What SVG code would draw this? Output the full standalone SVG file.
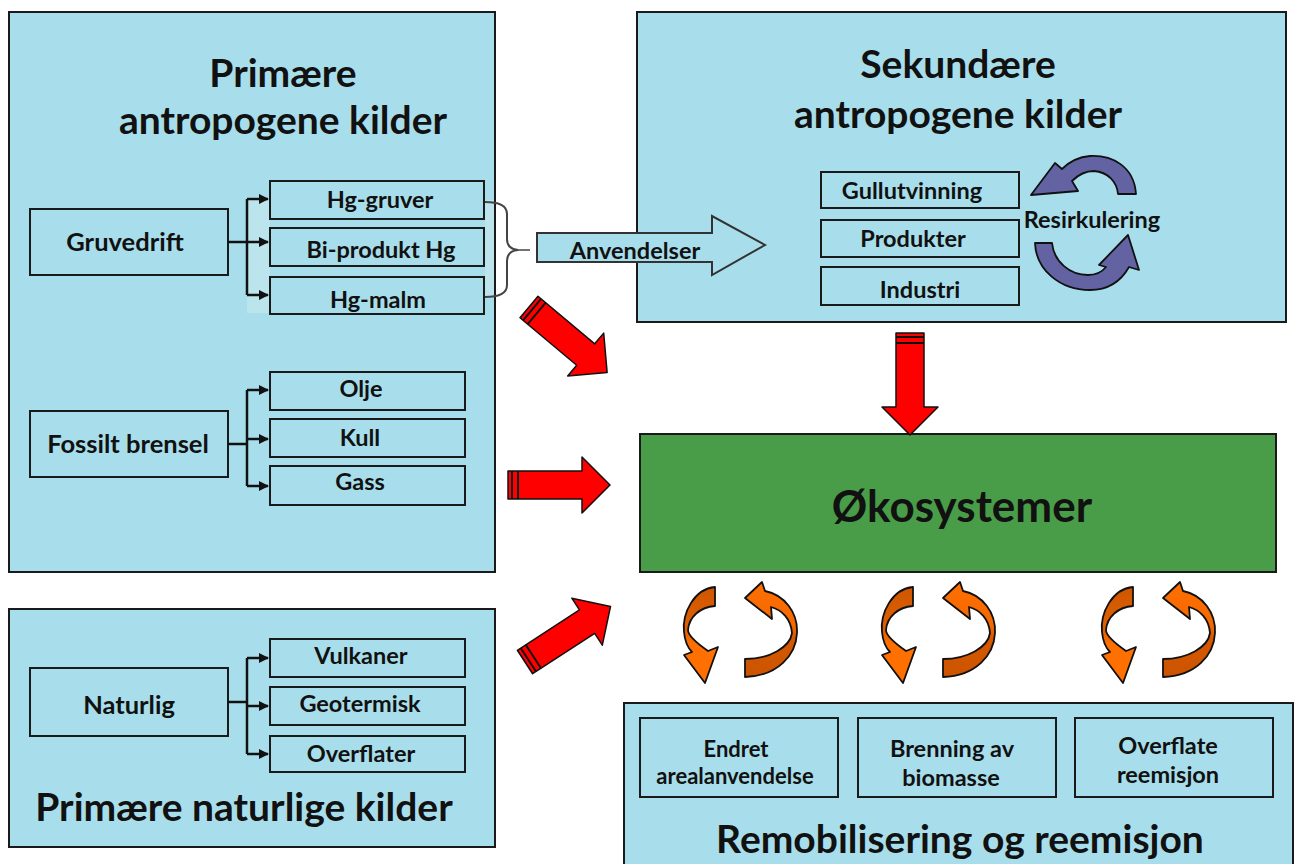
<svg xmlns="http://www.w3.org/2000/svg" width="1295" height="864" viewBox="0 0 1295 864">
  <defs>
    <style>
      text { font-family: Lato, "Open Sans", "Liberation Sans", sans-serif; font-weight: bold; fill: #111; text-anchor: middle; }
      .panel { fill: #a8deeb; stroke: #1a1a1a; stroke-width: 2; }
      .box { fill: #a8deeb; stroke: #1a1a1a; stroke-width: 2; }
      .title { font-size: 39px; }
      .item { font-size: 23.5px; }
      .sub { font-size: 22px; }
      .lbl { font-size: 25.5px; }
      .wire { fill: none; stroke: #111; stroke-width: 2.5; }
      .red { fill: #ff0000; stroke: #111; stroke-width: 1.5; stroke-linejoin: round; }
      .purple { fill: #6363a3; stroke: #111; stroke-width: 1.8; stroke-linejoin: round; }
      .orange { stroke: #111; stroke-width: 1.8; stroke-linejoin: round; }
    </style>
    <marker id="tip" viewBox="0 0 10 10" refX="9" refY="5" markerWidth="4" markerHeight="4" orient="auto" markerUnits="strokeWidth">
      <path d="M0,0 L10,5 L0,10 Z" fill="#111"/>
    </marker>
    <!-- thick red arrow pointing right, tail at origin -->
    <g id="redArrow">
      <path class="red" d="M0,-14 L74,-14 L74,-28 L102,0 L74,28 L74,14 L0,14 Z"/>
      <line x1="4" y1="-14" x2="4" y2="14" stroke="#111" stroke-width="2"/>
      <line x1="10" y1="-14" x2="10" y2="14" stroke="#111" stroke-width="2"/>
    </g>
    <linearGradient id="gL" x1="0" y1="0" x2="0" y2="1">
      <stop offset="0" stop-color="#cf5600"/>
      <stop offset="0.45" stop-color="#e06000"/>
      <stop offset="0.6" stop-color="#ff7000"/>
      <stop offset="1" stop-color="#ff7000"/>
    </linearGradient>
    <linearGradient id="gR" x1="0" y1="0" x2="0" y2="1">
      <stop offset="0" stop-color="#ff7000"/>
      <stop offset="0.45" stop-color="#f56800"/>
      <stop offset="0.6" stop-color="#d45800"/>
      <stop offset="1" stop-color="#cc5400"/>
    </linearGradient>
    <!-- pair of twisted orange ribbon arrows, centred on origin -->
    <g id="cycle">
      <path class="orange" fill="url(#gL)" d="M-25,-48 C-46,-46 -58,-22 -56,-3 C-55,8 -51,14 -48,17 L-56,20 L-35,48 L-22,12 L-32,16 C-42,9 -52,0 -52,-5 C-51,-18 -40,-28 -25,-29 Z"/>
      <path class="orange" fill="url(#gR)" d="M5,-37 L22,-53 L25,-44 C45,-40 58,-22 57,-2 C56,20 38,41 5,42 L5,24 C30,24 50,12 52,-2 C51,-16 42,-25 31,-28 L32,-16 Z"/>
    </g>
  </defs>

  <rect width="1295" height="864" fill="#ffffff"/>

  <!-- primary anthropogenic sources -->
  <g id="primary-anthropogenic">
    <rect class="panel" x="9" y="12" width="486" height="560"/>
    <rect x="247" y="197" width="23" height="116" fill="#bce4ed"/>
    <rect x="485" y="200" width="9" height="98" fill="#bce4ed"/>
    <text class="title" x="283" y="87">Primære</text>
    <text class="title" x="283" y="134">antropogene kilder</text>
  </g>
  <g id="gruvedrift"><rect class="box" x="30" y="209" width="198" height="66"/><text class="lbl" x="125" y="251">Gruvedrift</text></g>
  <g id="hg-gruver"><rect class="box" x="270" y="181" width="214" height="38"/><text class="item" x="380" y="208">Hg-gruver</text></g>
  <g id="bi-produkt"><rect class="box" x="270" y="228" width="214" height="38"/><text class="item" x="381" y="258">Bi-produkt Hg</text></g>
  <g id="hg-malm"><rect class="box" x="270" y="277" width="214" height="37"/><text class="item" x="378" y="308">Hg-malm</text></g>
  <g id="fossilt"><rect class="box" x="30" y="411" width="198" height="66"/><text class="lbl" x="128" y="453">Fossilt brensel</text></g>
  <g id="olje"><rect class="box" x="270" y="372" width="195" height="38"/><text class="item" x="361" y="397">Olje</text></g>
  <g id="kull"><rect class="box" x="270" y="419" width="195" height="38"/><text class="item" x="360" y="446">Kull</text></g>
  <g id="gass"><rect class="box" x="270" y="466" width="195" height="39"/><text class="item" x="360" y="490">Gass</text></g>

  <!-- primary natural sources -->
  <g id="primary-natural">
    <rect class="panel" x="9" y="609" width="486" height="238"/>
    <text class="title" x="244" y="821">Primære naturlige kilder</text>
  </g>
  <g id="naturlig"><rect class="box" x="30" y="668" width="198" height="68"/><text class="lbl" x="129" y="714">Naturlig</text></g>
  <g id="vulkaner"><rect class="box" x="270" y="639" width="195" height="38"/><text class="item" x="361" y="664">Vulkaner</text></g>
  <g id="geotermisk"><rect class="box" x="270" y="687" width="195" height="38"/><text class="item" x="360" y="712">Geotermisk</text></g>
  <g id="overflater"><rect class="box" x="270" y="736" width="195" height="36"/><text class="item" x="361" y="762">Overflater</text></g>

  <!-- secondary anthropogenic sources -->
  <g id="secondary">
    <rect class="panel" x="637" y="12" width="649" height="310"/>
    <text class="title" x="958" y="78">Sekundære</text>
    <text class="title" x="958" y="128">antropogene kilder</text>
  </g>
  <g id="gullutvinning"><rect class="box" x="821" y="172" width="198" height="36"/><text class="item" x="912" y="199">Gullutvinning</text></g>
  <g id="produkter"><rect class="box" x="821" y="220" width="198" height="37"/><text class="item" x="913" y="247">Produkter</text></g>
  <g id="industri"><rect class="box" x="821" y="267" width="198" height="38"/><text class="item" x="920" y="298">Industri</text></g>
  <g id="resirkulering">
    <path class="purple" d="M1136,194 C1134,166 1112,155 1090,156 C1078,157 1068,163 1062,169 L1055,163 L1031,195 L1078,191 L1072,181 C1079,174 1086,171 1094,171 C1108,172 1117,182 1118,194 Z"/>
    <path class="purple" d="M1035,243 L1052,243 C1054,262 1070,275 1088,275 C1096,275 1102,272 1106,267 L1099,265 L1128,235 L1139,270 L1129,267 C1120,283 1106,290 1090,290 C1060,290 1036,270 1035,243 Z"/>
    <text class="item" x="1092" y="228">Resirkulering</text>
  </g>

  <!-- ecosystems -->
  <g id="okosystemer">
    <rect x="640" y="434" width="636" height="138" fill="#4a9d48" stroke="#1a1a1a" stroke-width="2"/>
    <text x="962" y="522" style="font-size:44px">Økosystemer</text>
  </g>

  <!-- remobilisation and re-emission -->
  <g id="remobilisering">
    <rect class="panel" x="624" y="703" width="669" height="170"/>
    <text class="title" x="960" y="853">Remobilisering og reemisjon</text>
  </g>
  <g id="endret"><rect class="box" x="640" y="718" width="198" height="79"/><text class="sub" x="736" y="757">Endret</text><text class="sub" x="735" y="784">arealanvendelse</text></g>
  <g id="brenning"><rect class="box" x="858" y="718" width="198" height="79"/><text class="item" x="952" y="757">Brenning av</text><text class="item" x="951" y="786">biomasse</text></g>
  <g id="overflate"><rect class="box" x="1075" y="718" width="198" height="79"/><text class="item" x="1168" y="754">Overflate</text><text class="item" x="1168" y="783">reemisjon</text></g>

  <!-- connectors -->
  <g id="connectors">
    <path class="wire" d="M228,242 H247" stroke-width="4"/>
    <path class="wire" d="M247,199 V295"/>
    <path class="wire" d="M247,199 H268" marker-end="url(#tip)"/>
    <path class="wire" d="M247,242 H268" marker-end="url(#tip)"/>
    <path class="wire" d="M247,295 H268" marker-end="url(#tip)"/>

    <path class="wire" d="M228,444 H247" stroke-width="3"/>
    <path class="wire" d="M247,390 V486"/>
    <path class="wire" d="M247,390 H268" marker-end="url(#tip)"/>
    <path class="wire" d="M247,439 H268" marker-end="url(#tip)"/>
    <path class="wire" d="M247,486 H268" marker-end="url(#tip)"/>

    <path class="wire" d="M228,702 H247" stroke-width="3"/>
    <path class="wire" d="M247,658 V754"/>
    <path class="wire" d="M247,658 H268" marker-end="url(#tip)"/>
    <path class="wire" d="M247,706 H268" marker-end="url(#tip)"/>
    <path class="wire" d="M247,754 H268" marker-end="url(#tip)"/>

    <!-- brace gathering the mining outputs -->
    <path d="M485,202 Q507,202 507,214 L507,239 Q507,249 518,250 Q507,251 507,261 L507,285 Q507,297 485,297" fill="none" stroke="#444" stroke-width="2"/>
    <path d="M518,250 H530" fill="none" stroke="#444" stroke-width="1.5"/>

    <!-- uses arrow -->
    <path d="M537,233 H712 V216 L765,245 L712,275 V262 H537 Z" fill="#a8deeb" stroke="#333" stroke-width="2"/>
    <text class="item" x="635" y="259">Anvendelser</text>

    <use href="#redArrow" transform="translate(529,307) rotate(40)"/>
    <use href="#redArrow" transform="translate(508,485)"/>
    <use href="#redArrow" transform="translate(525,662) rotate(-33)"/>
    <use href="#redArrow" transform="translate(910,333) rotate(90)"/>

    <use href="#cycle" transform="translate(740,635)"/>
    <use href="#cycle" transform="translate(938,635)"/>
    <use href="#cycle" transform="translate(1158,635)"/>
  </g>
</svg>
